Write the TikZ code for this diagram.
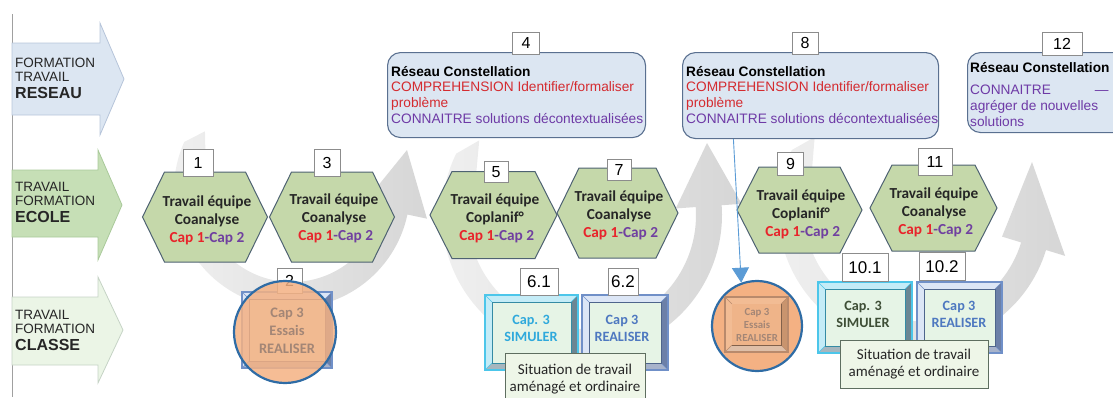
\documentclass[tikz,border=0pt]{standalone}
\usepackage{fontspec}
\setmainfont{Carlito}
\newfontfamily\arial{Liberation Sans}
\usetikzlibrary{arrows.meta,calc}
\definecolor{hexfill}{HTML}{C5D8AA}
\definecolor{hexdraw}{HTML}{4E6272}
\definecolor{rfill}{HTML}{DCE6F2}
\definecolor{rdraw}{HTML}{5A7090}
\definecolor{capred}{HTML}{E8242B}
\definecolor{cappurple}{HTML}{7040A0}
\definecolor{txtred}{HTML}{D42B30}
\definecolor{txtpurple}{HTML}{6E3AA6}
\definecolor{numdraw}{HTML}{8C8C8C}
\definecolor{reseaufill}{HTML}{DCE6F2}
\definecolor{reseaudraw}{HTML}{B7C5DA}
\definecolor{ecolefill}{HTML}{C6DFB6}
\definecolor{ecoledraw}{HTML}{A9C99A}
\definecolor{classefill}{HTML}{EBF5E6}
\definecolor{classedraw}{HTML}{C5D3C5}
\definecolor{cyanb}{HTML}{4CC6EA}
\definecolor{cyanl}{HTML}{C4ECF7}
\definecolor{bevdark}{HTML}{6B8693}
\definecolor{blueb}{HTML}{7090C8}
\definecolor{bluel}{HTML}{DCE6F6}
\definecolor{bluedark}{HTML}{6C80A8}
\definecolor{innerfill}{HTML}{E6F4E6}
\definecolor{simcyan}{HTML}{2FA9DC}
\definecolor{realblue}{HTML}{4E78C0}
\definecolor{simdark}{HTML}{3E4E36}
\definecolor{orangefill}{HTML}{F4B183}
\definecolor{circdraw}{HTML}{2F6CA5}
\definecolor{essaistxt}{HTML}{A38676}
\definecolor{brownb}{HTML}{B98A6C}
\definecolor{brownl}{HTML}{F2BC94}
\definecolor{browndark}{HTML}{C9946E}
\definecolor{browninner}{HTML}{EFB489}
\definecolor{sitfill}{HTML}{EEF6E8}
\definecolor{sitdraw}{HTML}{5E6E60}
\definecolor{connblue}{HTML}{5B9BD5}
\definecolor{vline}{HTML}{A0A0A0}
\definecolor{arclight}{HTML}{F1F1F1}
\definecolor{arcdark}{HTML}{D6D6D6}

% #1 cx, #2 cy, #3 r, #4 start angle, #5 end angle, #6 tip x, #7 tip y (relative to centre)
\newcommand\grayarc[7]{%
  \begin{scope}[shift={(#1,#2)}]
    \shade[left color=arclight, right color=arcdark] (#4:#3) -- (#4-10:#3+13)
      arc[start angle=#4-10, end angle=#5, radius=#3+13]
      -- (#5:#3+33) -- (#6,#7) -- (#5:#3-33) -- (#5:#3-13)
      arc[start angle=#5, end angle=#4-14, radius=#3-13] -- cycle;
  \end{scope}}
\newcommand\hexa[4]{%
  \draw[hexdraw, fill=hexfill, line width=1pt] ({#1-#3/2},#2) -- ({#1-#3/2+22},{#2-#4/2})
    -- ({#1+#3/2-22},{#2-#4/2}) -- ({#1+#3/2},#2) -- ({#1+#3/2-22},{#2+#4/2})
    -- ({#1-#3/2+22},{#2+#4/2}) -- cycle;}
\newcommand\bevelbox[7]{%
  \fill[#6] (#1,#2) rectangle (#3,#4);
  \fill[#7] (#3,#2) -- (#3,#4) -- (#3-7,#4-7) -- (#3-7,#2+7) -- cycle;
  \fill[#7!60!white] (#1,#4) -- (#3,#4) -- (#3-7,#4-7) -- (#1+7,#4-7) -- cycle;
  \draw[#5, line width=0.6pt] (#1,#2) -- (#1+7,#2+7) (#3,#2) -- (#3-7,#2+7)
    (#1,#4) -- (#1+7,#4-7) (#3,#4) -- (#3-7,#4-7);
  \draw[#5!70!black, line width=0.6pt, fill=innerfill] (#1+7,#2+7) rectangle (#3-7,#4-7);
  \draw[#5, line width=1.6pt] (#1,#2) rectangle (#3,#4);}
\newcommand\capline{\textcolor{capred}{Cap 1}\textcolor{cappurple}{-Cap 2}}

\begin{document}
\begin{tikzpicture}[x=1pt,y=-1pt,
  numbox/.style={draw=numdraw, fill=white, line width=0.8pt, inner sep=0pt,
    font=\arial\fontsize{16}{16}\selectfont},
  hextxt/.style={align=center, inner sep=0pt, font=\bfseries\fontsize{15.3}{18}\selectfont, text=black!85},
  rbox/.style={draw=rdraw, fill=rfill, line width=1.1pt, rounded corners=13pt, inner sep=0pt, anchor=north west},
  rtxt/.style={align=left, anchor=north west, inner sep=0pt, font=\arial\fontsize{13.7}{15.7}\selectfont},
  lbl/.style={align=left, anchor=north west, inner sep=0pt, font=\arial\fontsize{13.5}{14}\selectfont, text=black!85},
  bvtxt/.style={align=center, inner sep=0pt, font=\bfseries\fontsize{14.2}{17}\selectfont},
  sitbox/.style={draw=sitdraw, fill=sitfill, line width=0.8pt, inner sep=0pt, anchor=north west},
  sittxt/.style={align=center, inner sep=0pt, font=\fontsize{15}{16.5}\selectfont, text=black!85},
  circ/.style={circle, draw=circdraw, line width=2.2pt, fill=orangefill, inner sep=0pt},
  conn/.style={draw=connblue, line width=0.9pt, -{Triangle[width=17pt,length=15pt]}}]
\useasboundingbox (0,0) rectangle (1113,397);

% background circular arrows
\grayarc{292}{190}{105}{214}{12}{115}{-40}
\grayarc{582}{215}{127}{216}{-4}{125}{-72}
\grayarc{915}{210}{124}{216}{17}{117}{-48}

% left line and row arrows
\draw[vline, line width=0.8pt] (12,14) -- (12,397);
\draw[reseaudraw, fill=reseaufill, line width=0.8pt] (12,43) -- (100,43) -- (100,23) -- (124,79) -- (100,135) -- (100,115) -- (12,115) -- cycle;
\draw[ecoledraw, fill=ecolefill, line width=0.8pt] (12,170) -- (98,170) -- (98,150) -- (122,205) -- (98,260) -- (98,237) -- (12,237) -- cycle;
\draw[classedraw, fill=classefill, line width=0.8pt] (12,297) -- (98,297) -- (98,277) -- (123,330) -- (98,383) -- (98,365) -- (12,365) -- cycle;
\node[lbl] (l1) at (15,58) {FORMATION\\TRAVAIL\\[3pt]{\bfseries\fontsize{16}{16}\selectfont RESEAU}};
\node[lbl] (l2) at (15,182) {TRAVAIL\\FORMATION\\[3pt]{\bfseries\fontsize{16}{16}\selectfont ECOLE}};
\node[lbl] (l3) at (15,310) {TRAVAIL\\FORMATION\\[3pt]{\bfseries\fontsize{16}{16}\selectfont CLASSE}};

% network boxes
\node[rbox, minimum width=258, minimum height=85] (r4) at (387,52) {};
\node[rtxt] (t4) at (391,66) {\textbf{Réseau Constellation}\\\textcolor{txtred}{COMPREHENSION Identifier/formaliser}\\\textcolor{txtred}{problème}\\\textcolor{txtpurple}{CONNAITRE solutions décontextualisées}};
\node[numbox, minimum width=27, minimum height=22] (n4) at (526,43) {4};

\node[rbox, minimum width=256, minimum height=86] (r8) at (682,52) {};
\node[rtxt] (t8) at (686,66) {\textbf{Réseau Constellation}\\\textcolor{txtred}{COMPREHENSION Identifier/formaliser}\\\textcolor{txtred}{problème}\\\textcolor{txtpurple}{CONNAITRE solutions décontextualisées}};
\node[numbox, minimum width=26, minimum height=22] (n8) at (805,43) {8};

\node[rbox, minimum width=170, minimum height=80] (r12) at (967,52) {};
\node[rtxt] (t12) at (970,62) {\textbf{Réseau Constellation}\\[7pt]\textcolor{txtpurple}{CONNAITRE\hspace{44pt}—}\\\textcolor{txtpurple}{agréger de nouvelles}\\\textcolor{txtpurple}{solutions}};
\node[numbox, minimum width=40, minimum height=23] (n12) at (1062,43.5) {12};

% school hexagons
\hexa{205}{217}{125}{90}
\node[hextxt] (h1) at (207,220) {Travail équipe\\Coanalyse\\\capline};
\node[numbox, minimum width=30, minimum height=27] (n1) at (198,162.5) {1};
\hexa{332}{217}{125}{90}
\node[hextxt] (h3) at (334,218) {Travail équipe\\Coanalyse\\\ \capline};
\node[numbox, minimum width=26, minimum height=27] (n3) at (327,162.5) {3};
\hexa{493.5}{215}{127}{87}
\node[hextxt] (h5) at (495,218) {Travail équipe\\Coplanif°\\\ \capline};
\node[numbox, minimum width=24, minimum height=21] (n5) at (496,172) {5};
\hexa{617.5}{213}{121}{90}
\node[hextxt] (h7) at (619,215) {Travail équipe\\Coanalyse\\\ \capline};
\node[numbox, minimum width=24, minimum height=21] (n7) at (619,170) {7};
\hexa{799.5}{210}{125}{86}
\node[hextxt] (h9) at (801,214) {Travail équipe\\Coplanif°\\\ \capline};
\node[numbox, minimum width=26, minimum height=23] (n9) at (790.5,163.5) {9};
\hexa{933.5}{208}{127}{86}
\node[hextxt] (h11) at (934,212) {Travail équipe\\Coanalyse\\\ \capline};
\node[numbox, minimum width=34, minimum height=27] (n11) at (935,161.5) {11};

% class row: item 2
\bevelbox{242}{292}{332}{368}{blueb}{bluel}{bluedark}
\node[numbox, minimum width=25, minimum height=25] (n2) at (289.5,280.5) {2};
\node[circ, minimum size=102, fill opacity=0.85] (c2) at (285,332) {};
\node[bvtxt, text=essaistxt, font=\bfseries\fontsize{14.5}{18}\selectfont] (e2) at (287,331) {Cap 3\\Essais\\REALISER};

% 6.1 / 6.2
\bevelbox{485}{295}{578}{370}{cyanb}{cyanl}{bevdark}
\node[bvtxt, text=simcyan] (b61) at (531,328) {Cap. 3\\SIMULER};
\node[numbox, minimum width=38, minimum height=27, font=\arial\fontsize{17}{17}\selectfont] (n61) at (539,281.5) {6.1};
\bevelbox{582}{295}{668}{370}{blueb}{bluel}{bluedark}
\node[bvtxt, text=realblue] (b62) at (622,328) {Cap 3\\REALISER};
\node[numbox, minimum width=30, minimum height=27, font=\arial\fontsize{17}{17}\selectfont] (n62) at (623,281.5) {6.2};
\node[sitbox, minimum width=140, minimum height=60] (s1) at (505,353) {};
\node[sittxt] (st1) at (575,379) {Situation de travail\\aménagé et ordinaire};

% circle 8
\node[circ, minimum size=90] (c8) at (757,326) {};
\bevelbox{725}{297}{788}{352}{brownb}{brownl}{browndark}
\fill[browninner] (732,304) rectangle (781,345);
\node[bvtxt, text=essaistxt, font=\bfseries\fontsize{10.8}{13}\selectfont] (e8) at (757,325) {Cap 3\\Essais\\REALISER};

% 10.1 / 10.2
\bevelbox{818}{282}{912}{353}{cyanb}{cyanl}{bevdark}
\node[bvtxt, text=simdark] (b101) at (863,314) {Cap. 3\\SIMULER};
\node[numbox, minimum width=46, minimum height=28, font=\arial\fontsize{17}{17}\selectfont] (n101) at (865,267.5) {10.1};
\bevelbox{917}{282}{1002}{353}{blueb}{bluel}{bluedark}
\node[bvtxt, text=realblue] (b102) at (959,314) {Cap 3\\REALISER};
\node[numbox, minimum width=46, minimum height=28, font=\arial\fontsize{17}{17}\selectfont] (n102) at (942,266.5) {10.2};
\node[sitbox, minimum width=148, minimum height=48] (s2) at (840,340) {};
\node[sittxt] (st2) at (914,364) {Situation de travail\\aménagé et ordinaire};

% connector
\draw[conn] ($(r8.south west)!0.2!(r8.south east)$) -- (c8.110);
\end{tikzpicture}
\end{document}
